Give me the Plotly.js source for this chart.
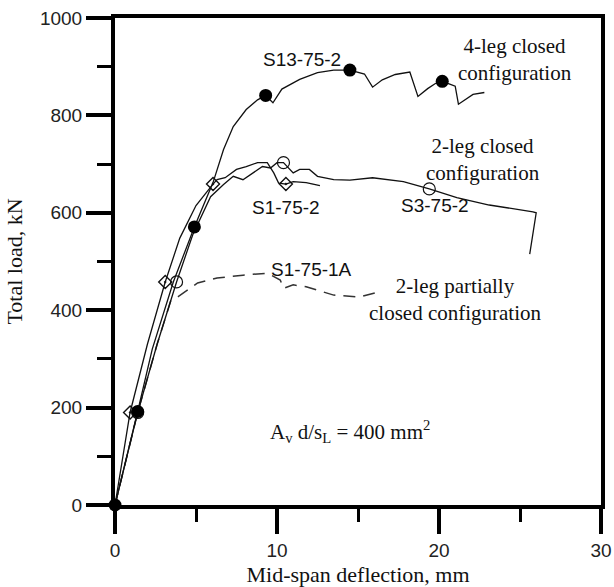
<!DOCTYPE html>
<html>
<head>
<meta charset="utf-8">
<script src="https://cdn.plot.ly/plotly-3.0.1.min.js"></script>
<style>html,body{margin:0;padding:0;background:#fff;}#chart{width:614px;height:587px;}</style>
</head>
<body>
<div id="chart"></div>
<script>
// 4-leg closed configuration (S13-75-2)
const s13X = [0, 0.7, 1.4, 2.3, 3.6, 4.9, 5.5, 6.05, 6.7, 7.3, 8.1, 8.8, 9.3, 9.75, 10.3, 11.4, 12.5, 13.5, 14.5, 15.4, 15.9, 16.5, 17.3, 18.2, 18.7, 19.3, 19.8, 20.2, 21.0, 21.2, 22.1, 22.8];
const s13Y = [0, 95, 192, 320, 458, 571, 620, 662, 730, 777, 812, 832, 841, 826, 854, 874, 888, 893, 893, 885, 858, 873, 884, 889, 839, 855, 866, 870, 860, 823, 843, 847];
const s13MarkX = [0, 1.4, 4.9, 9.3, 14.5, 20.2];
const s13MarkY = [0, 192, 571, 841, 893, 870];

// 2-leg closed configuration (S1-75-2)
const s1X = [0, 0.93, 2.0, 3.1, 4.0, 5.0, 6.05, 6.3, 6.8, 7.5, 8.1, 8.8, 9.4, 9.8, 10.1, 10.55, 11.0, 11.8, 12.65];
const s1Y = [0, 190, 330, 458, 548, 615, 659, 668, 672, 689, 695, 703, 703, 682, 661, 659, 664, 662, 656];
const s1MarkX = [0.93, 3.1, 6.05, 10.55];
const s1MarkY = [190, 458, 659, 659];

// 2-leg closed configuration (S3-75-2)
const s3X = [0, 1.4, 2.6, 3.8, 4.8, 5.9, 6.7, 7.3, 7.9, 8.5, 9.1, 9.6, 10.0, 10.4, 11.0, 11.4, 12.0, 12.5, 13.5, 14.5, 15.9, 17.8, 19.4, 21.1, 23.1, 25.8, 26.0, 25.6];
const s3Y = [0, 190, 330, 458, 555, 633, 658, 675, 668, 682, 695, 692, 703, 703, 682, 689, 689, 675, 668, 667, 672, 664, 649, 631, 616, 602, 600, 515];
const s3MarkX = [1.4, 3.8, 10.4, 19.4];
const s3MarkY = [190, 458, 703, 649];

// 2-leg partially closed configuration (S1-75-1A)
const s1aX = [0, 1.4, 2.6, 3.45, 3.9, 5.1, 6.3, 7.9, 9.4, 10.2, 10.4, 11.0, 11.8, 13.5, 15.1, 16.2];
const s1aY = [0, 190, 330, 420, 428, 456, 466, 472, 476, 462, 445, 452, 448, 431, 427, 437];

const xTicks = [0, 10, 20, 30];
const yTicks = [0, 200, 400, 600, 800, 1000];

const ink = '#111';
const lineW = 1.3;
const sans = 'Liberation Sans, Arial, sans-serif';
const serif = 'Liberation Serif, Times New Roman, serif';

const traces = [
  {x: s1aX, y: s1aY, mode: 'lines', line: {color: '#333', width: 1.5, dash: '12px,8px'}, hoverinfo: 'skip'},
  {x: s3X, y: s3Y, mode: 'lines', line: {color: ink, width: lineW}, hoverinfo: 'skip'},
  {x: s1X, y: s1Y, mode: 'lines', line: {color: ink, width: lineW}, hoverinfo: 'skip'},
  {x: s13X, y: s13Y, mode: 'lines', line: {color: ink, width: lineW}, hoverinfo: 'skip'},
  {x: s3MarkX, y: s3MarkY, mode: 'markers', cliponaxis: false,
   marker: {symbol: 'circle-open', size: 12, color: ink, line: {width: 1.2, color: ink}}},
  {x: s1MarkX, y: s1MarkY, mode: 'markers', cliponaxis: false,
   marker: {symbol: 'diamond-open-dot', size: 10, color: ink, line: {width: 1.4, color: ink}}},
  {x: s13MarkX, y: s13MarkY, mode: 'markers', cliponaxis: false,
   marker: {symbol: 'circle', size: 13, color: '#000', line: {width: 0}}}
];

const ann = (x, y, text, font, size) => ({x, y, xref: 'x', yref: 'y', text, showarrow: false,
  font: {family: font, size: size, color: '#111'}, xanchor: 'center', yanchor: 'middle', align: 'center'});

const layout = {
  width: 614, height: 587,
  margin: {l: 115, r: 13, t: 18, b: 82},
  paper_bgcolor: '#fff', plot_bgcolor: '#fff',
  showlegend: false,
  xaxis: {
    range: [0, 30], tickvals: xTicks, ticktext: xTicks.map(String),
    showgrid: false, zeroline: false,
    showline: true, linewidth: 4, linecolor: '#000', mirror: true,
    ticks: 'outside', ticklen: 25, tickwidth: 4, tickcolor: '#000',
    minor: {ticks: 'outside', ticklen: 13, tickwidth: 3, tickcolor: '#000', dtick: 5, showgrid: false},
    tickfont: {family: sans, size: 19, color: '#222'},
    title: {text: 'Mid-span deflection, mm', font: {family: serif, size: 22, color: '#111'}, standoff: 15},
    automargin: false
  },
  yaxis: {
    range: [0, 1000], tickvals: yTicks, ticktext: yTicks.map(String),
    showgrid: false, zeroline: false,
    showline: true, linewidth: 4, linecolor: '#000', mirror: true,
    ticks: 'outside', ticklen: 25, tickwidth: 4, tickcolor: '#000',
    minor: {ticks: 'outside', ticklen: 14, tickwidth: 3, tickcolor: '#000', dtick: 100, showgrid: false},
    tickfont: {family: sans, size: 19, color: '#222'},
    title: {text: 'Total load, kN', font: {family: serif, size: 22, color: '#111'}, standoff: 12},
    automargin: false
  },
  annotations: [
    ann(11.55, 914, 'S13-75-2', sans, 19),
    ann(10.55, 610, 'S1-75-2', sans, 19),
    ann(19.75, 616, 'S3-75-2', sans, 19),
    ann(12.16, 483, 'S1-75-1A', sans, 19),
    ann(24.7, 915, '4-leg closed<br>configuration', serif, 21),
    ann(22.7, 709, '2-leg closed<br>configuration', serif, 21),
    ann(21.0, 422, '2-leg partially<br>closed configuration', serif, 21),
    ann(14.5, 150, 'A<sub>v</sub> d/s<sub>L</sub> = 400 mm<sup>2</sup>', serif, 21)
  ]
};

Plotly.newPlot('chart', traces, layout, {displayModeBar: false, staticPlot: true});
</script>
</body>
</html>
